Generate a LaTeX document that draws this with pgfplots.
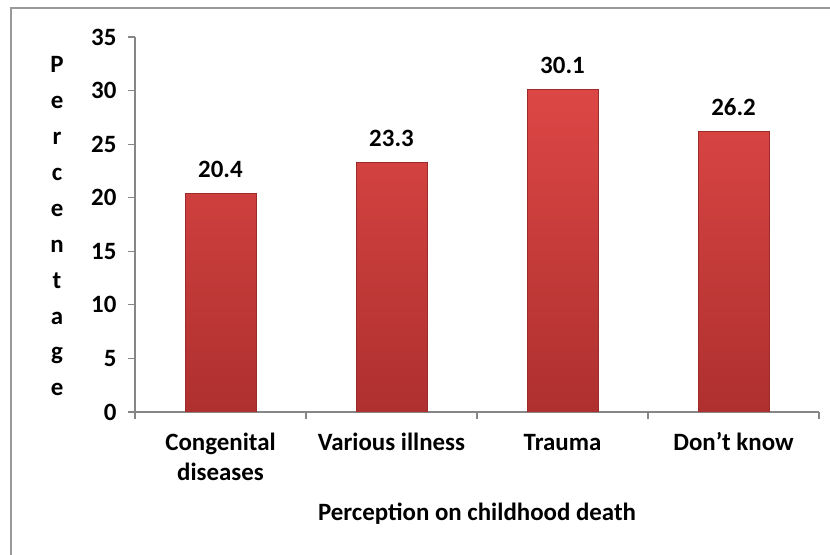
\documentclass[border=0pt]{standalone}
\usepackage{pgfplots}
\pgfplotsset{compat=1.18}
\usepackage{fontspec}
\setmainfont{Carlito}

\definecolor{barTop}{HTML}{DC4745}
\definecolor{barBot}{HTML}{AE302F}
\definecolor{barEdge}{HTML}{9C2B2A}
\definecolor{axisGray}{HTML}{868686}
\definecolor{frameGray}{HTML}{999999}

\newcommand{\lblfont}{\bfseries\fontsize{25}{30}\selectfont}

\begin{document}
\begin{tikzpicture}[x=1bp,y=1bp]
	% page and outer frame (frame runs off right and bottom edges)
	\useasboundingbox (0,0) rectangle (830,555);
	\fill[white] (0,0) rectangle (830,555);
	\begin{scope}
		\clip (0,0) rectangle (830,555);
		\draw[frameGray, line width=1.5bp] (11,-5) -- (11,547) -- (840,547);
	\end{scope}

	\begin{axis}[
			at={(135bp,143bp)}, anchor=south west,
			scale only axis,
			width=684bp, height=375bp,
			xmin=0, xmax=4,
			ymin=0, ymax=35,
			axis x line*=bottom,
			axis y line*=left,
			axis line style={axisGray, line width=1.1bp, -},
			tick align=outside,
			major tick length=7bp,
			minor tick length=7bp,
			tick style={axisGray, line width=1.1bp},
			major x tick style={draw=none},
			xtick={0.5,1.5,2.5,3.5},
			minor xtick={0,1,2,3,4},
			xticklabels={\strut Congenital\\diseases, \strut Various illness, \strut Trauma, \strut Don’t know},
			x tick label style={align=center, font=\lblfont, anchor=north, yshift=-7bp},
			ytick={0,5,...,35},
			y tick label style={font=\lblfont, xshift=-8bp},
			/pgf/number format/assume math mode=true,
			xlabel={Perception on childhood death},
			xlabel style={font=\lblfont,
				at={(axis description cs:0.5,-0.27)}, anchor=center},
			ylabel={P\\e\\r\\c\\e\\n\\t\\a\\g\\e},
			ylabel style={rotate=-90, align=center,
				font=\bfseries\fontsize{25}{36}\selectfont,
				at={(axis description cs:-0.114,0.495)}, anchor=center},
			ybar,
			bar width=71bp,
			nodes near coords={\pgfmathprintnumber[fixed,fixed zerofill,precision=1]{\pgfplotspointmeta}},
			every node near coord/.append style={font=\lblfont, black, yshift=12bp},
		]
		\addplot[draw=barEdge, line width=0.4bp, top color=barTop, bottom color=barBot]
		coordinates {(0.5,20.4) (1.5,23.3) (2.5,30.1) (3.5,26.2)};
	\end{axis}
\end{tikzpicture}
\end{document}
